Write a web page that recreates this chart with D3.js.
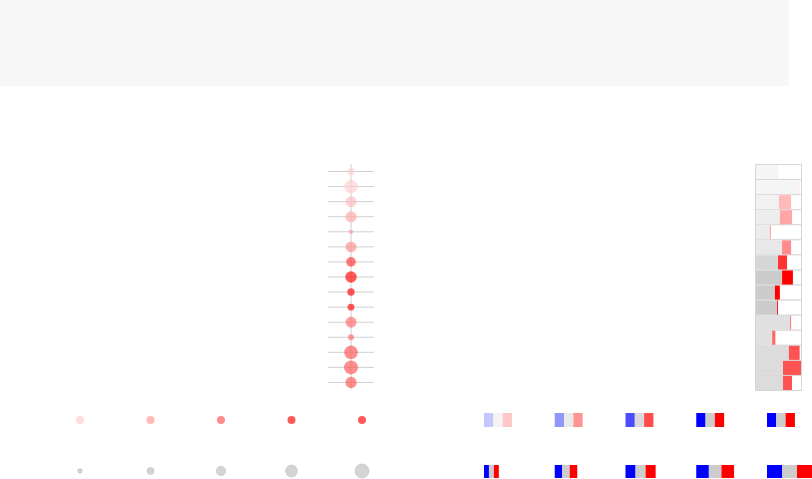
<!DOCTYPE html>
<html>
<head>
<meta charset="utf-8">
<script src="https://cdn.jsdelivr.net/npm/d3@7"></script>
<style>
	body { margin: 0; background: #fff; }
	svg { display: block; }
</style>
</head>
<body>
<svg id="chart" width="812" height="479"></svg>
<script>
// row ids, one per line of the dot strip and the bar panel
const rows = ["a", "b", "c", "d", "e", "f", "g", "h", "i", "j", "k", "l", "m", "n", "o"];
// grey part of each bar (percent of panel width)
const baseValues = [50, 95, 51, 53, 31, 58, 49, 58, 42, 47, 76, 36, 73, 60, 60];
// coloured part stacked after the grey
const extraValues = [0, 1, 27, 27, 2, 20, 20, 24, 11, 2, 2, 7, 24, 40, 20];
// colour intensity per row (0..1)
const levels = [0.2, 0.2, 0.27, 0.35, 0.4, 0.45, 0.8, 1, 1, 1, 0.6, 0.6, 0.68, 0.68, 0.68];

// legends
const legendLevels = [0.22, 0.42, 0.7, 1, 1];
const legendSizes = [33, 50, 67, 84, 100];

const svg = d3.select("#chart");

const red = d3.interpolateRgb("#ffffff", "#ff0000");
const blue = d3.interpolateRgb("#ffffff", "#0000ff");
const grey = d3.interpolateRgb("#ffffff", "#cccccc");

// header band
svg.append("rect")
	.attr("x", 0).attr("y", 0)
	.attr("width", 789).attr("height", 86)
	.style("fill", "#f7f7f7");

const y = d3.scaleBand().domain(rows).range([164, 390]);
const r = d3.scaleLinear().domain([0, 100]).range([0, 7]);

//
// dot strip
//
const dotX = 351;
const strip = svg.append("g");

strip.selectAll("line.h")
	.data(rows)
	.enter()
	.append("line")
	.attr("class", "h")
	.attr("x1", dotX - 23).attr("x2", dotX + 23)
	.attr("y1", (d) => y(d) + y.bandwidth() / 2)
	.attr("y2", (d) => y(d) + y.bandwidth() / 2)
	.style("stroke", "#d0d0d0")
	.style("stroke-width", "1px");

strip.append("line")
	.attr("x1", dotX).attr("x2", dotX)
	.attr("y1", y.range()[0]).attr("y2", y.range()[1])
	.style("stroke", "#d0d0d0")
	.style("stroke-width", "1px");

strip.selectAll("circle")
	.data(rows)
	.enter()
	.append("circle")
	.attr("cx", dotX)
	.attr("cy", (d) => y(d) + y.bandwidth() / 2)
	.attr("r", (d, i) => r(baseValues[i] + extraValues[i]))
	.style("fill", (d, i) => red(levels[i]))
	.style("fill-opacity", 0.65);

//
// bar panel
//
const x = d3.scaleLinear().domain([0, 100]).range([756, 801]);
const panel = svg.append("g");

panel.selectAll("rect.row")
	.data(rows)
	.enter()
	.append("rect")
	.attr("class", "row")
	.attr("x", 755.5)
	.attr("y", (d) => y(d) + 0.5)
	.attr("width", 46)
	.attr("height", y.bandwidth())
	.style("fill", "#fff")
	.style("stroke", "#d6d6d6")
	.style("stroke-width", "1px");

panel.selectAll("rect.base")
	.data(rows)
	.enter()
	.append("rect")
	.attr("class", "base")
	.attr("x", x(0))
	.attr("y", (d) => y(d) + 1)
	.attr("width", (d, i) => x(baseValues[i]) - x(0))
	.attr("height", y.bandwidth() - 1)
	.style("fill", (d, i) => grey(levels[i]));

panel.selectAll("rect.extra")
	.data(rows)
	.enter()
	.append("rect")
	.attr("class", "extra")
	.attr("x", (d, i) => x(baseValues[i]))
	.attr("y", (d) => y(d) + 1)
	.attr("width", (d, i) => x(extraValues[i]) - x(0))
	.attr("height", y.bandwidth() - 1)
	.style("fill", (d, i) => red(levels[i]));

//
// legends
//
const lx = d3.scalePoint().domain(d3.range(legendLevels.length)).range([80, 362]);
const fx = d3.scalePoint().domain(d3.range(legendLevels.length)).range([484, 767]);

svg.append("g")
	.selectAll("circle")
	.data(legendLevels)
	.enter()
	.append("circle")
	.attr("cx", (d, i) => lx(i))
	.attr("cy", 420)
	.attr("r", 4)
	.style("fill", (d) => red(d))
	.style("fill-opacity", 0.65);

svg.append("g")
	.selectAll("circle")
	.data(legendSizes)
	.enter()
	.append("circle")
	.attr("cx", (d, i) => lx(i))
	.attr("cy", 471)
	.attr("r", (d) => r(d))
	.style("fill", "#d4d4d4")
	.style("stroke", "#bfbfbf")
	.style("stroke-width", "0.6px");

const flagTop = svg.append("g")
	.selectAll("g")
	.data(legendLevels)
	.enter()
	.append("g")
	.attr("transform", (d, i) => `translate(${fx(i)},413)`);

[blue, grey, red].forEach((scale, k) => {
	flagTop.append("rect")
		.attr("x", k * 9.3)
		.attr("y", 0)
		.attr("width", 9.3)
		.attr("height", 14)
		.style("fill", (d) => scale(d));
});

const w = d3.scaleLinear().domain([0, 100]).range([0, 15]);
const flagBottom = svg.append("g")
	.selectAll("g")
	.data(legendSizes)
	.enter()
	.append("g")
	.attr("transform", (d, i) => `translate(${fx(i)},465)`);

["#0000ff", "#cccccc", "#ff0000"].forEach((c, k) => {
	flagBottom.append("rect")
		.attr("x", (d) => k * w(d))
		.attr("y", 0)
		.attr("width", (d) => w(d))
		.attr("height", 13)
		.style("fill", c);
});
</script>
</body>
</html>
